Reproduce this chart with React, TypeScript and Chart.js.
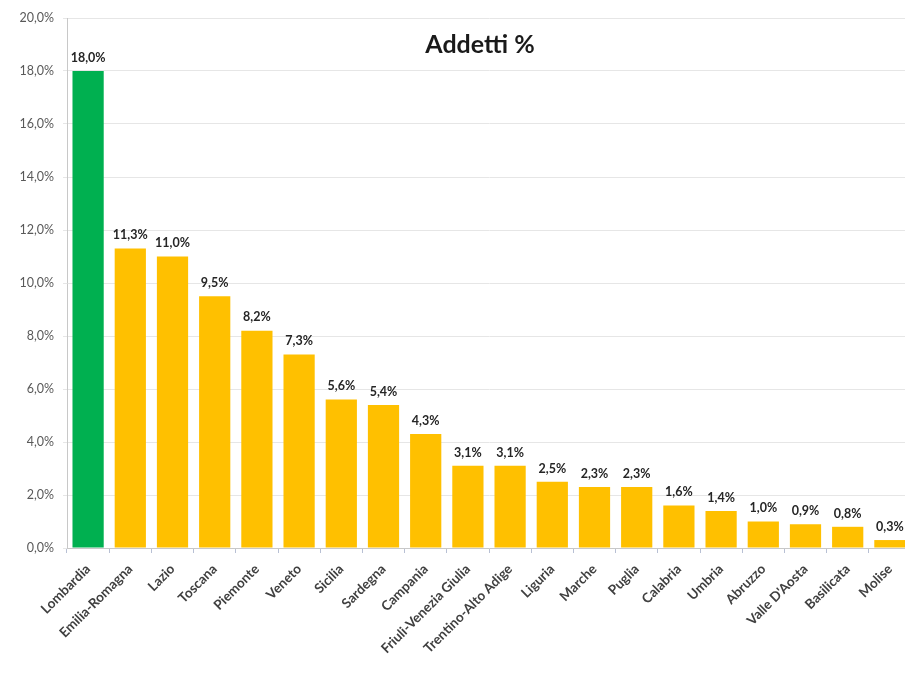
import React, { useEffect, useRef } from "react";
import { Chart, registerables } from "chart.js";

Chart.register(...registerables);

const regions = [
  "Lombardia", "Emilia-Romagna", "Lazio", "Toscana", "Piemonte", "Veneto",
  "Sicilia", "Sardegna", "Campania", "Friuli-Venezia Giulia", "Trentino-Alto Adige",
  "Liguria", "Marche", "Puglia", "Calabria", "Umbria", "Abruzzo", "Valle D'Aosta",
  "Basilicata", "Molise",
];
const addettiPct = [
  18.0, 11.3, 11.0, 9.5, 8.2, 7.3, 5.6, 5.4, 4.3, 3.1, 3.1, 2.5, 2.3, 2.3, 1.6,
  1.4, 1.0, 0.9, 0.8, 0.3,
];
const yTicks = [0, 2, 4, 6, 8, 10, 12, 14, 16, 18, 20];

const TITLE = "Addetti %";
const FONT = "Lato, 'Open Sans', sans-serif";
const fmt = (v: number) => v.toFixed(1).replace(".", ",") + "%";

const valueLabels = {
  id: "valueLabels",
  afterDatasetsDraw(chart: any) {
    const { ctx } = chart;
    const meta = chart.getDatasetMeta(0);
    ctx.save();
    ctx.font = `bold 12.5px ${FONT}`;
    ctx.fillStyle = "#262626";
    ctx.textAlign = "center";
    ctx.textBaseline = "bottom";
    meta.data.forEach((bar: any, i: number) => {
      ctx.fillText(fmt(addettiPct[i]), bar.x, bar.y - 7);
    });
    // chart title, sitting inside the plot area
    const area = chart.chartArea;
    ctx.font = `bold 25px ${FONT}`;
    ctx.fillStyle = "#1a1a1a";
    ctx.textBaseline = "middle";
    ctx.fillText(TITLE, (area.left + area.right) / 2 - 9, area.top + 27);
    ctx.restore();
  },
};

export default function App() {
  const ref = useRef<HTMLCanvasElement | null>(null);
  useEffect(() => {
    if (!ref.current) return;
    const chart = new Chart(ref.current, {
      type: "bar",
      data: {
        labels: regions,
        datasets: [
          {
            data: addettiPct,
            backgroundColor: addettiPct.map((_, i) => (i === 0 ? "#00b050" : "#ffc000")),
            barPercentage: 0.74,
            categoryPercentage: 1,
          },
        ],
      },
      options: {
        animation: false,
        responsive: false,
        layout: { padding: { top: 18, right: 4, left: 0, bottom: 0 } },
        plugins: { legend: { display: false }, tooltip: { enabled: false } },
        scales: {
          x: {
            grid: {
              display: true,
              drawOnChartArea: false,
              drawTicks: true,
              tickLength: 5,
              color: "#b8c0d4",
            },
            border: { display: true, color: "#c8c8c8" },
            ticks: {
              autoSkip: false,
              minRotation: 45,
              maxRotation: 45,
              color: "#404040",
              font: { family: FONT, size: 13.5, weight: "bold" },
              padding: 8,
            },
            afterFit(scale: any) {
              scale.height = 127;
            },
          },
          y: {
            min: 0,
            max: 20,
            afterBuildTicks(scale: any) {
              scale.ticks = yTicks.map((v) => ({ value: v }));
            },
            grid: {
              color: "#e6e6e6",
              tickLength: 4,
            },
            border: { display: true, color: "#c8c8c8" },
            ticks: {
              color: "#595959",
              font: { family: FONT, size: 12.5 },
              padding: 9,
              callback: (v: any) => fmt(Number(v)),
            },
            afterFit(scale: any) {
              scale.width = 67;
            },
          },
        },
      },
      plugins: [valueLabels],
    });
    return () => chart.destroy();
  }, []);

  return (
    <div
      style={{
        position: "fixed",
        left: 0,
        top: 0,
        width: 905,
        height: 675,
        overflow: "hidden",
        background: "#ffffff",
      }}
    >
      <canvas ref={ref} width={915} height={675} style={{ display: "block" }} />
    </div>
  );
}
